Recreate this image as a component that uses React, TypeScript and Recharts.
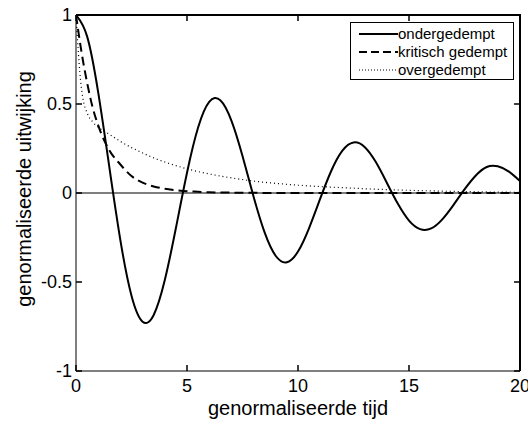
import { LineChart, Line, XAxis, YAxis, ReferenceLine } from "recharts";

// tijd (genormaliseerd) and uitwijking
const tUnder = [0, 0.5, 1, 1.5, 2, 2.5, 3, 3.5, 4, 4.5, 5, 5.5, 6, 6.5, 7, 7.5, 8, 8.5, 9, 9.5, 10, 10.5, 11, 11.5, 12, 12.5, 13, 13.5, 14, 14.5, 15, 15.5, 16, 16.5, 17, 17.5, 18, 18.5, 19, 19.5, 20];
const yUnder = [1, 0.88, 0.565, 0.147, -0.266, -0.577, -0.723, -0.685, -0.489, -0.197, 0.114, 0.368, 0.512, 0.521, 0.407, 0.208, -0.021, -0.223, -0.354, -0.389, -0.329, -0.197, -0.032, 0.125, 0.238, 0.284, 0.259, 0.175, 0.058, -0.061, -0.155, -0.203, -0.199, -0.148, -0.068, 0.02, 0.097, 0.146, 0.15, 0.12, 0.067];

const tCrit = [0, 0.25, 0.5, 0.75, 1, 1.5, 2, 2.5, 3, 3.5, 4, 4.5, 5, 5.5, 6, 7, 8, 10, 12, 14, 16, 18, 20];
const yCrit = [1, 0.79, 0.62, 0.48, 0.38, 0.24, 0.16, 0.095, 0.058, 0.037, 0.024, 0.016, 0.01, 0.007, 0.004, 0.002, 0.001, 0, 0, 0, 0, 0, 0];

const tOver = [0, 0.1, 0.2, 0.3, 0.5, 0.75, 1, 1.5, 2, 2.5, 3, 3.5, 4, 5, 6, 7, 8, 9, 10, 11, 12, 13, 14, 15, 16, 17, 18, 19, 20];
const yOver = [1, 0.8, 0.64, 0.54, 0.45, 0.4, 0.37, 0.33, 0.29, 0.255, 0.225, 0.197, 0.174, 0.136, 0.107, 0.085, 0.067, 0.054, 0.044, 0.036, 0.03, 0.024, 0.019, 0.015, 0.012, 0.009, 0.007, 0.005, 0.004];

const xTicks = [0, 5, 10, 15, 20];
const yTicks = [-1, -0.5, 0, 0.5, 1];

const names = ["ondergedempt", "kritisch gedempt", "overgedempt"];

const toRows = (t: number[], y: number[]) => t.map((v, i) => ({ t: v, y: y[i] }));

const FONT = "Arial, 'Liberation Sans', sans-serif";
const W = 528;
const H = 421;
const M = { top: 15, right: 8, bottom: 0, left: 0 };
const PLOT_W = W - 76 - M.right;
const PLOT_H = H - 50 - M.top;

// ticks point inwards on all four sides, like the matlab box
const BottomTick = (p: any) => (
  <g>
    <path d={`M${p.x},${p.y}v-6M${p.x},${p.y - PLOT_H}v6`} stroke="#000" strokeWidth={1.5} fill="none" />
    <text x={p.x} y={p.y + 21} textAnchor="middle" fontSize={18} fontFamily={FONT} fill="#000">
      {p.payload.value}
    </text>
  </g>
);

const LeftTick = (p: any) => (
  <g>
    <path d={`M${p.x},${p.y}h6M${p.x + PLOT_W},${p.y}h-6`} stroke="#000" strokeWidth={1.5} fill="none" />
    <text x={p.x - 4} y={p.y + 6} textAnchor="end" fontSize={18} fontFamily={FONT} fill="#000">
      {p.payload.value}
    </text>
  </g>
);

const XLabel = (p: any) => {
  const vb = p.viewBox;
  return (
    <text x={vb.x + vb.width / 2} y={vb.y + 44} textAnchor="middle" fontSize={20} fontFamily={FONT} fill="#000">
      genormaliseerde tijd
    </text>
  );
};

const YLabel = (p: any) => {
  const vb = p.viewBox;
  return (
    <text
      transform={`translate(31, ${vb.y + vb.height / 2 - 4}) rotate(-90)`}
      textAnchor="middle"
      fontSize={20}
      fontFamily={FONT}
      fill="#000"
    >
      genormaliseerde uitwijking
    </text>
  );
};

const LegendBox = () => {
  const dashes = ["", "8 4", "1 2"];
  const widths = [2, 2, 1];
  return (
    <div
      style={{
        position: "absolute",
        left: 350,
        top: 22,
        width: 164,
        height: 58,
        boxSizing: "border-box",
        border: "1px solid #000",
        background: "#fff",
        padding: "2px 0 0 7px",
        fontFamily: FONT,
        fontSize: 15,
        lineHeight: "18px",
      }}
    >
      {names.map((n, i) => (
        <div key={n} style={{ display: "flex", alignItems: "center" }}>
          <svg width={40} height={10}>
            <line x1={1} x2={40} y1={5} y2={5} stroke="#000" strokeWidth={widths[i]} strokeDasharray={dashes[i]} />
          </svg>
          <span>{n}</span>
        </div>
      ))}
    </div>
  );
};

export default function App() {
  return (
    <div style={{ position: "absolute", left: 0, top: 0, width: W, height: H, background: "#fff" }}>
      <LineChart width={W} height={H} margin={M}>
        <XAxis
          dataKey="t"
          type="number"
          domain={[0, 20]}
          ticks={xTicks}
          height={50}
          tickSize={0}
          tickMargin={0}
          tick={<BottomTick />}
          axisLine={{ stroke: "#000" }}
          allowDataOverflow
          label={{ content: <XLabel /> }}
        />
        <YAxis
          type="number"
          domain={[-1, 1]}
          ticks={yTicks}
          width={76}
          tickSize={0}
          tickMargin={0}
          tick={<LeftTick />}
          axisLine={{ stroke: "#000" }}
          allowDataOverflow
          label={{ content: <YLabel /> }}
        />
        <ReferenceLine y={0} stroke="#000" strokeWidth={1} />
        <Line
          data={toRows(tOver, yOver)}
          dataKey="y"
          name={names[2]}
          type="monotone"
          stroke="#000"
          strokeWidth={1.2}
          strokeDasharray="1 3"
          dot={false}
          isAnimationActive={false}
        />
        <Line
          data={toRows(tCrit, yCrit)}
          dataKey="y"
          name={names[1]}
          type="monotone"
          stroke="#000"
          strokeWidth={2}
          strokeDasharray="9 5"
          dot={false}
          isAnimationActive={false}
        />
        <Line
          data={toRows(tUnder, yUnder)}
          dataKey="y"
          name={names[0]}
          type="natural"
          stroke="#000"
          strokeWidth={2}
          dot={false}
          isAnimationActive={false}
        />
      </LineChart>
      <LegendBox />
      {/* top and right edges of the axes box */}
      <div
        style={{
          position: "absolute",
          left: 76,
          top: 14,
          width: PLOT_W + 1,
          height: PLOT_H + 1,
          boxSizing: "border-box",
          borderTop: "2px solid #000",
          borderRight: "2px solid #000",
          pointerEvents: "none",
        }}
      />
    </div>
  );
}
